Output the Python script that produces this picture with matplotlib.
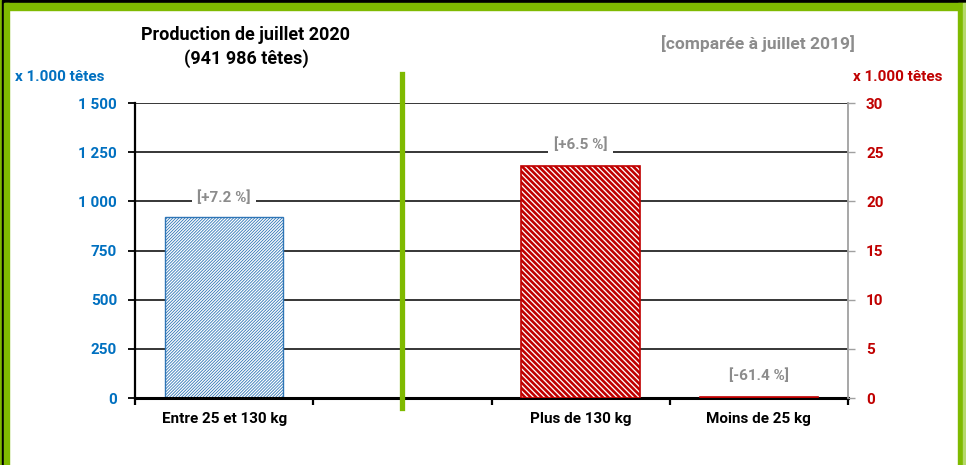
import matplotlib
matplotlib.use("Agg")
import matplotlib.pyplot as plt
from matplotlib.patches import Rectangle
from matplotlib.lines import Line2D
import matplotlib.transforms as mtransforms

plt.rcParams['font.family'] = ['Roboto', 'DejaVu Sans']

# ---- data ----
categories = ["Entre 25 et 130 kg", "", "Plus de 130 kg", "Moins de 25 kg"]
left_idx = [0]
left_values = [918]          # x 1.000 têtes
right_idx = [2, 3]
right_values = [23.6, 0.15]  # x 1.000 têtes
left_changes = ["[+7.2 %]"]
right_changes = ["[+6.5 %]", "[-61.4 %]"]
left_ticks = [0, 250, 500, 750, 1000, 1250, 1500]
left_ticklabels = ["0", "250", "500", "750", "1 000", "1 250", "1 500"]
right_ticks = [0, 5, 10, 15, 20, 25, 30]

BLUE = "#0070C0"
BLUE_BAR = "#2E75B6"
RED = "#C00000"
GRAY = "#8C8C8C"
GREEN = "#7FBA00"
FS = 11

fig = plt.figure(figsize=(9.66, 4.65), dpi=100)
W, H = 966, 465

def frect(x, y, w, h, color):
    fig.patches.append(Rectangle((x / W, 1 - (y + h) / H), w / W, h / H,
                                 transform=fig.transFigure, color=color, zorder=0))

# frame
frect(0, 0, W, 3, "black")
frect(0, 3, W, 7, GREEN)
frect(0, 0, 2, H, GREEN)
frect(2, 0, 2, H, "black")
frect(4, 3, 5, H, GREEN)
frect(958, 3, 5, H, GREEN)
frect(963, 3, 3, H, "#B5D96B")

ax = fig.add_axes([135 / W, 1 - 398 / H, (848 - 135) / W, (398 - 103) / H])
ax2 = ax.twinx()
ax.set_zorder(1)
ax2.set_zorder(2)
ax.patch.set_visible(False)
ax2.patch.set_visible(False)

ax.set_xlim(-0.5, 3.5)
ax.set_ylim(0, 1500)
ax2.set_ylim(0, 30)

# grid
for t in left_ticks[1:]:
    ax.axhline(t, color="black", lw=1.1, zorder=1)

bw = 0.665
plt.rcParams['hatch.linewidth'] = 0.6
ax.bar(left_idx, left_values, width=bw, facecolor="white", edgecolor=BLUE_BAR,
       hatch="/" * 11, lw=1.0, zorder=2)
plt.rcParams['hatch.linewidth'] = 1.9
ax2.bar(right_idx, right_values, width=bw, facecolor="white", edgecolor=RED,
        hatch="\\" * 6, lw=1.2, zorder=2)

# labels
for i, v, s in zip(left_idx, left_values, left_changes):
    ax.annotate(s, (i, v), xytext=(0, 14), textcoords="offset points",
                ha="center", va="center", fontsize=FS, fontweight="bold",
                color=GRAY, zorder=5,
                bbox=dict(boxstyle="square,pad=0.35", fc="white", ec="none"))
for i, v, s in zip(right_idx, right_values, right_changes):
    ax2.annotate(s, (i, v), xytext=(0, 15), textcoords="offset points",
                 ha="center", va="center", fontsize=FS, fontweight="bold",
                 color=GRAY, zorder=5,
                 bbox=dict(boxstyle="square,pad=0.35", fc="white", ec="none"))

# green separator
trans = mtransforms.blended_transform_factory(ax.transData, ax.transAxes)
ax.add_line(Line2D([1, 1], [-0.034, 1.10], transform=trans, color=GREEN,
                   lw=3.8, clip_on=False, zorder=6))

# spines
ax.spines["top"].set_visible(False)
ax2.spines["top"].set_visible(False)
ax.spines["right"].set_visible(False)
ax2.spines["left"].set_visible(False)
ax2.spines["bottom"].set_visible(False)
ax.spines["left"].set_color("black")
ax.spines["left"].set_linewidth(1.6)
ax.spines["bottom"].set_color("black")
ax.spines["bottom"].set_linewidth(2.2)
ax.spines["bottom"].set_zorder(4)
ax2.spines["right"].set_color("#A0A0A0")
ax2.spines["right"].set_linewidth(1.3)

ax.set_yticks(left_ticks)
ax.set_yticklabels(left_ticklabels)
ax.tick_params(axis="y", direction="out", length=5, width=1.3, colors="black",
               labelcolor=BLUE, labelsize=FS, pad=8)
for t in ax.get_yticklabels():
    t.set_fontweight("bold")
ax2.set_yticks(right_ticks)
ax2.tick_params(axis="y", direction="out", length=5, width=1.0, colors="#A0A0A0",
                labelcolor=RED, labelsize=FS, pad=8)
for t in ax2.get_yticklabels():
    t.set_fontweight("bold")

ax.set_xticks([-0.5, 0.5, 1.5, 2.5, 3.5])
ax.set_xticklabels([])
ax.tick_params(axis="x", which="major", direction="out", length=5, width=1.6, colors="black")
ax.set_xticks(range(len(categories)), minor=True)
ax.set_xticklabels(categories, minor=True, fontsize=FS, fontweight="bold")
ax.tick_params(axis="x", which="minor", length=0, pad=10)

# texts
fig.text(60 / W, 1 - 77 / H, "x 1.000 têtes", color=BLUE, fontsize=FS,
         fontweight="bold", ha="center", va="center")
fig.text(898 / W, 1 - 77 / H, "x 1.000 têtes", color=RED, fontsize=FS,
         fontweight="bold", ha="center", va="center")
fig.text(246 / W, 1 - 47 / H, "Production de juillet 2020\n(941 986 têtes)",
         color="black", fontsize=13, fontweight="bold", ha="center", va="center",
         linespacing=1.3)
fig.text(758 / W, 1 - 44 / H, "[comparée à juillet 2019]", color=GRAY, fontsize=12.5,
         fontweight="bold", ha="center", va="center")

fig.savefig("out.png", dpi=100, facecolor="white")
